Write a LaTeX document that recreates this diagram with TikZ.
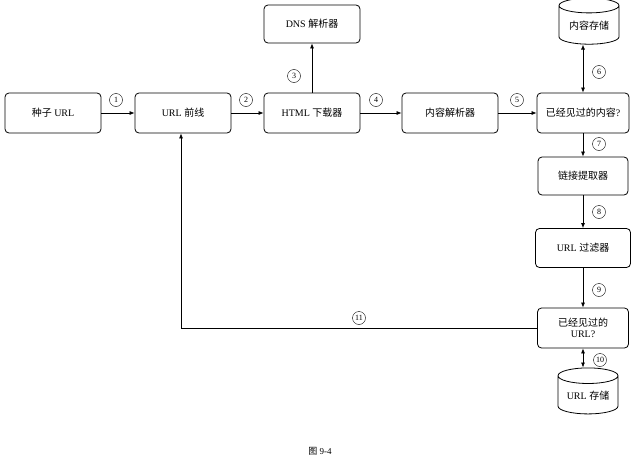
\documentclass[tikz,border=0pt]{standalone}
\usepackage{fontspec}
\setmainfont{Liberation Serif}
\newfontfamily\cjk{Noto Sans CJK SC}
\usetikzlibrary{shapes.geometric,arrows.meta}
\begin{document}
\begin{tikzpicture}[x=1pt,y=-1pt,
  box/.style={draw,rounded corners=4pt,minimum width=96pt,minimum height=40pt,font=\fontsize{10}{11}\selectfont,align=center,thick,line width=0.8pt},
  db/.style={draw,cylinder,shape border rotate=90,aspect=0.35,minimum width=60pt,minimum height=46pt,font=\fontsize{10}{11}\selectfont,line width=0.8pt,inner sep=1pt},
  num/.style={draw,circle,inner sep=0pt,minimum size=13pt,font=\fontsize{8}{9}\selectfont},
  arr/.style={-{Latex[length=5pt,width=4pt]},line width=0.7pt},
  darr/.style={{Latex[length=5pt,width=4pt]}-{Latex[length=5pt,width=4pt]},line width=0.7pt}]
\useasboundingbox (0,0) rectangle (640,463);
\node[box] (seed) at (53,113) {{\cjk 种子} URL};
\node[box] (front) at (183,113) {URL {\cjk 前线}};
\node[box] (html) at (312,113) {HTML {\cjk 下载器}};
\node[box] (parse) at (450,113) {{\cjk 内容解析器}};
\node[box,minimum width=92pt] (seen) at (583,113) {{\cjk 已经见过的内容}?};
\node[box,minimum height=38pt] (dns) at (312,24) {DNS {\cjk 解析器}};
\node[db] (cstore) at (589,26) {{\cjk 内容存储}};
\node[box,minimum width=90pt,minimum height=38pt] (link) at (583,176) {{\cjk 链接提取器}};
\node[box,minimum width=95pt,minimum height=39pt] (filt) at (583,248) {URL {\cjk 过滤器}};
\node[box,minimum width=91pt] (seenu) at (583,328) {{\cjk 已经见过的}\\URL?};
\node[db] (ustore) at (588,396) {URL {\cjk 存储}};
\draw[arr] (seed) -- (front);
\draw[arr] (front) -- (html);
\draw[arr] (html) -- (parse);
\draw[arr] (parse) -- (seen);
\draw[arr] (html) -- (dns);
\draw[darr] (cstore.south -| seen.north) -- (seen.north);
\draw[arr] (seen) -- (link);
\draw[arr] (link) -- (filt);
\draw[arr] (filt) -- (seenu);
\draw[darr] (seenu.south) -- (ustore.north -| seenu.south);
\coordinate (c11) at (181,328);
\draw[arr] (seenu.west) -- (c11) -- (front.south -| c11);
\node[num] at (116,100) {1};
\node[num] at (246,100) {2};
\node[num] at (294,76) {3};
\node[num] at (376,100) {4};
\node[num] at (517,100) {5};
\node[num] at (599,72) {6};
\node[num] at (599,144) {7};
\node[num] at (599,212) {8};
\node[num] at (599,290) {9};
\node[num] at (359,318) {11};
\node[num] at (600,360) {10};
\node[font=\fontsize{9}{10}\selectfont] (cap) at (320,451) {{\cjk 图} 9-4};
\end{tikzpicture}
\end{document}
